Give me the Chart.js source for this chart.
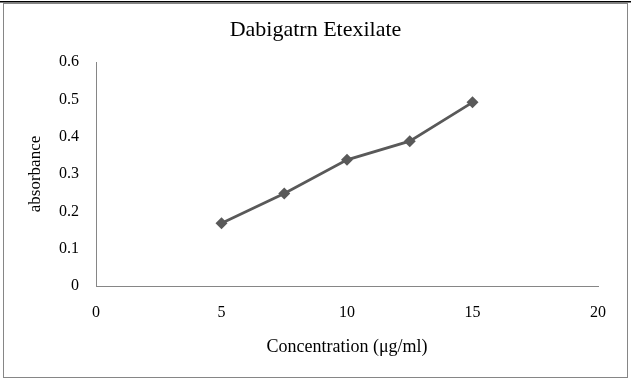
<!DOCTYPE html>
<html>
<head>
<meta charset="utf-8">
<script src="https://cdn.jsdelivr.net/npm/chart.js@4"></script>
<style>
  html, body { margin: 0; padding: 0; background: #fff; }
  #wrap { position: relative; width: 631px; height: 379px; }
</style>
</head>
<body>
<div id="wrap"><canvas id="c" width="631" height="379"></canvas></div>
<script>
const chartTitle = "Dabigatrn Etexilate";
const xAxisTitle = "Concentration (\u03bcg/ml)";
const yAxisTitle = "absorbance";
const concentrations = [5, 7.5, 10, 12.5, 15];
const absorbances = [0.168, 0.248, 0.338, 0.388, 0.492];
const xTicks = [0, 5, 10, 15, 20];
const yTicks = [0, 0.1, 0.2, 0.3, 0.4, 0.5, 0.6];

const points = concentrations.map((x, i) => ({ x: x, y: absorbances[i] }));

const framePlugin = {
  id: 'frame',
  beforeDraw(chart) {
    const ctx = chart.ctx;
    ctx.save();
    ctx.fillStyle = '#fff';
    ctx.fillRect(0, 0, chart.width, chart.height);
    ctx.strokeStyle = '#868686';
    ctx.lineWidth = 1;
    ctx.strokeRect(3.5, 3.5, 624, 374);
    ctx.fillStyle = '#000';
    ctx.fillRect(0, 1, chart.width, 1.5);
    ctx.restore();
  }
};

Chart.defaults.font.family = "'Liberation Serif', 'Times New Roman', serif";
Chart.defaults.color = '#000';

new Chart(document.getElementById('c'), {
  type: 'scatter',
  data: {
    datasets: [{
      data: points,
      showLine: true,
      tension: 0,
      borderColor: '#595959',
      backgroundColor: '#595959',
      borderWidth: 2.75,
      pointStyle: 'rectRot',
      pointRadius: 6,
      pointHoverRadius: 6,
      pointBorderWidth: 0
    }]
  },
  options: {
    responsive: false,
    animation: false,
    devicePixelRatio: 1,
    layout: { padding: 0 },
    plugins: {
      legend: { display: false },
      tooltip: { enabled: false },
      title: {
        display: true,
        text: chartTitle,
        color: '#000',
        font: { size: 22, weight: 'normal' },
        padding: { top: 17, bottom: 18.6 }
      }
    },
    scales: {
      x: {
        type: 'linear',
        min: 0, max: 20,
        afterBuildTicks(scale) { scale.ticks = xTicks.map(v => ({ value: v })); },
        afterFit(scale) { scale.height = 93; },
        grid: { display: false, drawTicks: false },
        border: { display: true, color: '#868686', width: 1 },
        ticks: { font: { size: 16 }, padding: 17, color: '#000', maxRotation: 0 },
        title: {
          display: true, text: xAxisTitle, color: '#000',
          font: { size: 18 }, padding: { top: 0, bottom: 21 }
        }
      },
      y: {
        type: 'linear',
        min: 0, max: 0.6,
        afterBuildTicks(scale) { scale.ticks = yTicks.map(v => ({ value: v })); },
        afterFit(scale) { scale.width = 96; },
        grid: { display: false, drawTicks: false },
        border: { display: true, color: '#868686', width: 1 },
        ticks: { font: { size: 16 }, padding: 17, color: '#000',
          callback: v => String(Math.round(v * 10) / 10) },
        title: {
          display: true, text: yAxisTitle, color: '#000',
          font: { size: 17 }, padding: { top: 25, bottom: 0 }
        }
      },
      yRight: {
        type: 'linear',
        position: 'right',
        min: 0, max: 0.6,
        afterFit(scale) { scale.width = 33; },
        grid: { display: false, drawTicks: false },
        border: { display: false },
        ticks: { display: false },
        title: { display: false }
      }
    }
  },
  plugins: [framePlugin]
});
</script>
</body>
</html>
